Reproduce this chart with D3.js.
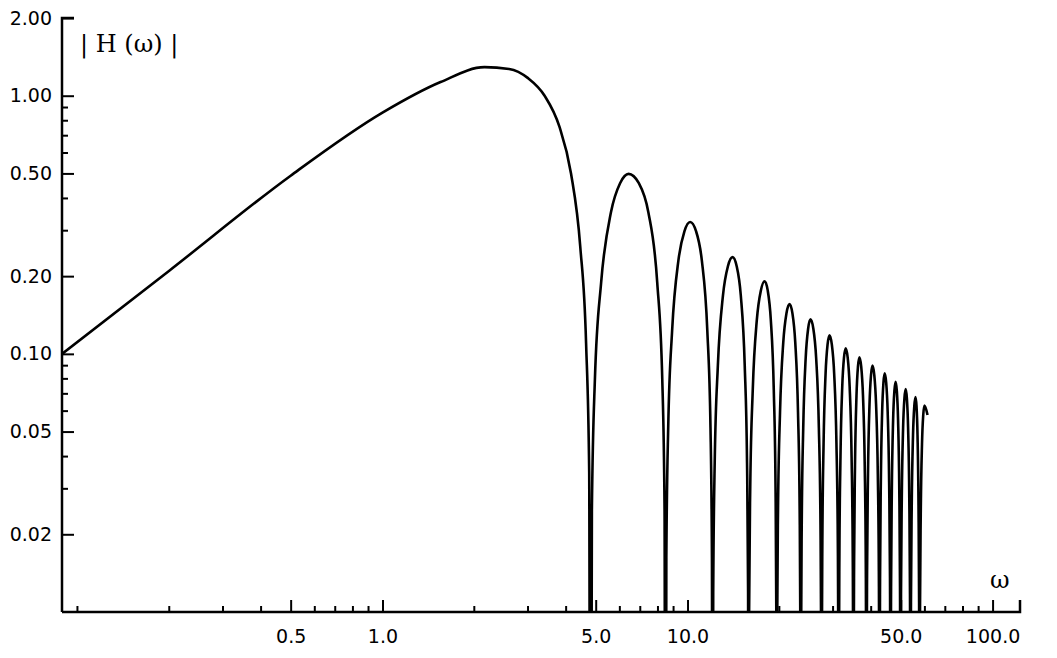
<!DOCTYPE html>
<html><head><meta charset="utf-8">
<script src="https://cdn.jsdelivr.net/npm/d3@7"></script>
<style>body{margin:0;background:#fff}svg{display:block}text{font-family:"DejaVu Sans",sans-serif;fill:#000}</style>
</head><body><svg id="c" width="1057" height="658"></svg>
<script>
// rising branch and main lobe [omega, |H|]
const mainOmega = [0.089, 0.2, 0.5, 1.0, 1.55, 2.16, 2.6, 3.0, 3.4, 3.8, 4.15, 4.45, 4.65, 4.76];
const mainH     = [0.10, 0.21, 0.49, 0.86, 1.13, 1.29, 1.27, 1.17, 1.0, 0.76, 0.5, 0.26, 0.11, 0.035];
// zeros of |H| (read positions)
const zeroOmega = [4.81, 8.47, 12.08, 15.85, 19.6, 23.5, 27.5, 31.3, 35.0, 38.6, 42.6, 46.3, 49.9, 53.8, 57.6];
// side-lobe peaks
const peakOmega = [6.41, 10.2, 14.05, 17.9, 21.6, 25.3, 29.2, 33.0, 36.6, 40.4, 44.3, 48.1, 51.9, 55.9, 59.8];
const peakH     = [0.498, 0.324, 0.237, 0.191, 0.156, 0.136, 0.118, 0.105, 0.097, 0.090, 0.084, 0.078, 0.073, 0.068, 0.063];
const endPoint = [61.2, 0.058];
// estimated lobe profile: position between zero and peak, height relative to peak
const lobePos = [0.03, 0.1, 0.25, 0.5, 0.75];
const lobeRel = [0.05, 0.16, 0.38, 0.71, 0.92];
const xTicks = [0.5, 1, 5, 10, 50, 100];
const xTickLabels = ["0.5", "1.0", "5.0", "10.0", "50.0", "100.0"];
const yTicks = [0.02, 0.05, 0.1, 0.2, 0.5, 1, 2];
const yTickLabels = ["0.02", "0.05", "0.10", "0.20", "0.50", "1.00", "2.00"];
const floorH = 1e-4;

const svg = d3.select("#c");
const L = 62, R = 1020, T = 18, B = 612;
const x = d3.scaleLog().domain([0.089, 123]).range([L, R]);
const y = d3.scaleLog().domain([0.01, 2]).range([B, T]);

svg.append("defs").append("clipPath").attr("id","clip")
  .append("rect").attr("x",L).attr("y",0).attr("width",R-L).attr("height",B-0);

const pts = mainOmega.map((w,i)=>[w, mainH[i]]);
zeroOmega.forEach((z,i)=>{
  const p = peakOmega[i], h = peakH[i];
  const z2 = i+1 < zeroOmega.length ? zeroOmega[i+1] : null;
  pts.push([z, floorH]);
  lobePos.forEach((f,k)=>pts.push([z+(p-z)*f, h*lobeRel[k]]));
  pts.push([p, h]);
  if (z2) for (let k=lobePos.length-1;k>=0;k--) pts.push([z2-(z2-p)*lobePos[k], h*lobeRel[k]]);
});
pts.push(endPoint);

const line = d3.line().x(d=>x(d[0])).y(d=>y(d[1])).curve(d3.curveMonotoneX);
svg.append("path").attr("d", line(pts)).attr("clip-path","url(#clip)")
  .attr("fill","none").attr("stroke","#000").attr("stroke-width",2.6);

// axes
const xMinor = [];
[0.1,1,10].forEach(d=>{for(let k=1;k<10;k++){const v=d*k; if(v>0.09&&v<123&&!xTicks.includes(+v.toFixed(3))) xMinor.push(v);}});
const xAxis = d3.axisBottom(x).tickValues(xTicks).tickFormat((d,i)=>xTickLabels[i]).tickSizeInner(-10).tickSizeOuter(0).tickPadding(18);
const gx = svg.append("g").attr("transform",`translate(0,${B})`).call(xAxis);
gx.selectAll("line").attr("stroke-width",2);
gx.selectAll(".tick line").attr("y2",-12);
gx.selectAll("text").attr("font-size",19);
gx.select(".domain").attr("stroke-width",2.5).attr("d",`M${L},0H${R}V-12`);
gx.selectAll(".minor").data(xMinor).enter().append("line")
  .attr("x1",d=>x(d)).attr("x2",d=>x(d)).attr("y1",0).attr("y2",-6).attr("stroke","#000").attr("stroke-width",2);

const yMinor = [];
[0.01,0.1,1].forEach(d=>{for(let k=1;k<10;k++){const v=+(d*k).toFixed(4); if(v>=0.01&&v<=2&&!yTicks.includes(v)) yMinor.push(v);}});
const yAxis = d3.axisLeft(y).tickValues(yTicks).tickFormat((d,i)=>yTickLabels[i]).tickSizeInner(-12).tickSizeOuter(0).tickPadding(10);
const gy = svg.append("g").attr("transform",`translate(${L},0)`).call(yAxis);
gy.selectAll("line").attr("stroke-width",2);
gy.selectAll("text").attr("font-size",19);
gy.select(".domain").attr("stroke-width",2.5).attr("d",`M0,${B}V${T}H12`);
gy.selectAll(".minor").data(yMinor).enter().append("line")
  .attr("y1",d=>y(d)).attr("y2",d=>y(d)).attr("x1",0).attr("x2",6).attr("stroke","#000").attr("stroke-width",2);

svg.append("text").attr("x",80).attr("y",52).attr("font-size",24)
  .style("font-family","'DejaVu Serif',serif").attr("xml:space","preserve").text("| H (ω) |");
svg.append("text").attr("x",990).attr("y",588).attr("font-size",24)
  .style("font-family","'DejaVu Serif',serif").text("ω");
</script></body></html>
